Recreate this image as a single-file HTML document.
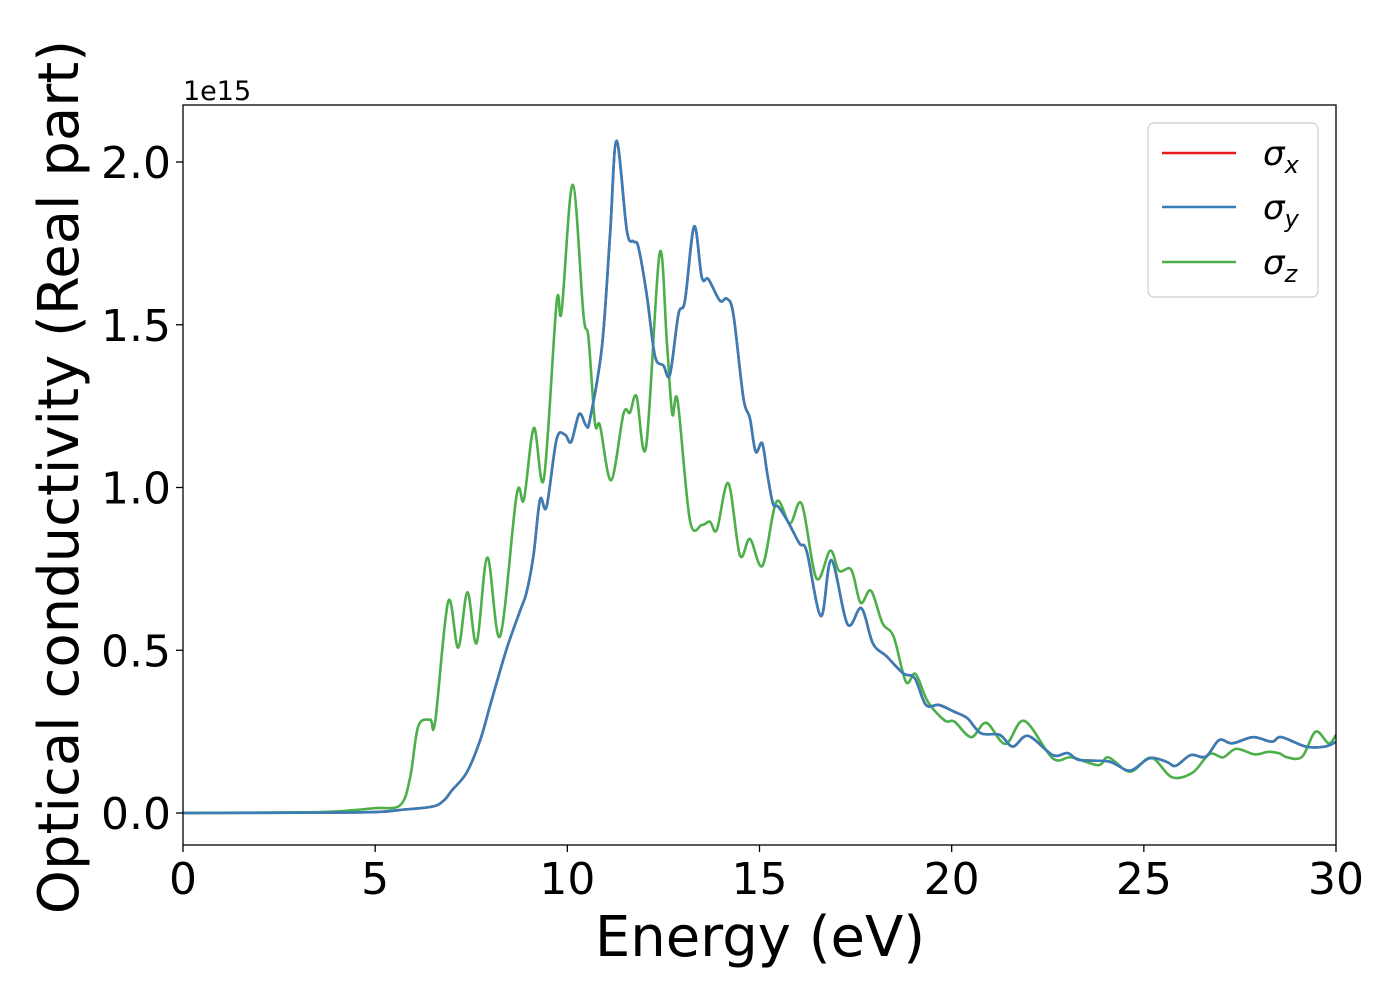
<!DOCTYPE html>
<html><head><meta charset="utf-8"><style>
body{margin:0;background:#fff;}
svg text{font-family:"DejaVu Sans","Liberation Sans",sans-serif;}
</style></head><body>
<svg id="chart" width="1400" height="1000" xmlns="http://www.w3.org/2000/svg"></svg>
<script>
const xTicks=[0,5,10,15,20,25,30];
const yTicks=[0.0,0.5,1.0,1.5,2.0];
const yTickLabels=["0.0","0.5","1.0","1.5","2.0"];
const sigmaYE=[0,3,5,5.7,6.5,6.8,7.0,7.38,7.73,7.99,8.25,8.47,8.77,8.94,9.12,9.29,9.46,9.72,9.94,10.1,10.31,10.49,10.59,10.9,11.11,11.28,11.55,11.72,11.85,12.07,12.28,12.5,12.67,12.89,13.06,13.3,13.5,13.67,13.97,14.15,14.32,14.58,14.75,14.9,15.07,15.2,15.35,15.49,15.74,16.04,16.23,16.6,16.87,17.29,17.65,17.95,18.3,18.74,19.04,19.33,19.67,20.07,20.41,20.76,21.25,21.59,21.99,22.63,23.02,23.32,24.1,24.64,25.14,25.58,25.83,26.22,26.61,26.96,27.3,27.84,28.33,28.58,29.22,29.71,30];
const sigmaYV=[0,0.001,0.003,0.01,0.02,0.04,0.07,0.124,0.223,0.33,0.437,0.522,0.621,0.678,0.792,0.963,0.941,1.148,1.162,1.14,1.226,1.19,1.21,1.432,1.774,2.065,1.788,1.756,1.738,1.589,1.404,1.375,1.347,1.532,1.574,1.802,1.645,1.64,1.574,1.58,1.532,1.276,1.213,1.11,1.136,1.044,0.951,0.941,0.895,0.828,0.803,0.605,0.777,0.58,0.629,0.521,0.482,0.429,0.414,0.332,0.332,0.311,0.291,0.245,0.24,0.204,0.237,0.178,0.184,0.163,0.158,0.13,0.168,0.158,0.145,0.178,0.173,0.224,0.214,0.233,0.219,0.233,0.204,0.204,0.218];
const sigmaXV=sigmaYV.slice();
const sigmaZE=[0,3,4,5,5.65,5.91,6.12,6.43,6.56,6.9,7.16,7.4,7.64,7.92,8.25,8.68,8.87,9.13,9.39,9.72,9.85,10.14,10.42,10.55,10.72,10.85,11.14,11.46,11.63,11.8,12.05,12.4,12.59,12.73,12.87,13.19,13.5,13.71,13.89,14.19,14.49,14.75,15.08,15.44,15.79,16.1,16.48,16.84,17.07,17.39,17.63,17.9,18.2,18.49,18.81,19.06,19.38,19.82,20.07,20.51,20.9,21.4,21.89,22.63,23.12,23.81,24.08,24.64,25.19,25.73,26.27,26.71,27.06,27.4,27.89,28.24,28.53,28.73,29.12,29.47,29.81,30];
const sigmaZV=[0,0.002,0.005,0.015,0.024,0.109,0.266,0.287,0.28,0.65,0.508,0.678,0.522,0.785,0.543,0.977,0.963,1.183,1.027,1.567,1.54,1.93,1.53,1.46,1.197,1.19,1.022,1.226,1.23,1.28,1.126,1.719,1.446,1.226,1.266,0.899,0.885,0.895,0.87,1.013,0.792,0.842,0.76,0.956,0.89,0.949,0.721,0.806,0.744,0.747,0.646,0.683,0.583,0.542,0.403,0.427,0.342,0.284,0.281,0.233,0.277,0.212,0.283,0.168,0.171,0.147,0.171,0.127,0.17,0.11,0.124,0.181,0.171,0.197,0.18,0.188,0.183,0.171,0.173,0.25,0.214,0.24];

const NS="http://www.w3.org/2000/svg";
const svg=document.getElementById('chart');
const L=183,R=1336,T=105,B=845;
const xS=e=>L+(e-0)/30*(R-L);
const yS=v=>813-v*325.5;
function mk(tag,attrs,parent){const el=document.createElementNS(NS,tag);for(const k in attrs)el.setAttribute(k,attrs[k]);(parent||svg).appendChild(el);return el;}
function pathFor(E,V){
  const p=E.map((e,i)=>[xS(e),yS(V[i])]);
  let d=`M${p[0][0]},${p[0][1]}`;
  for(let i=0;i<p.length-1;i++){
    const p0=p[Math.max(i-1,0)],p1=p[i],p2=p[i+1],p3=p[Math.min(i+2,p.length-1)];
    const c1=[p1[0]+(p2[0]-p0[0])/6,p1[1]+(p2[1]-p0[1])/6];
    const c2=[p2[0]-(p3[0]-p1[0])/6,p2[1]-(p3[1]-p1[1])/6];
    d+=` C${c1[0]},${c1[1]} ${c2[0]},${c2[1]} ${p2[0]},${p2[1]}`;
  }
  return d;
}
const clip=mk('clipPath',{id:'pc'});mk('rect',{x:L,y:T,width:R-L,height:B-T},clip);
const g=mk('g',{'clip-path':'url(#pc)'});


const series=[["sigma-x-line",sigmaYE,sigmaXV,"#e41a1c"],["sigma-z-line",sigmaZE,sigmaZV,"#4daf4a"],["sigma-y-line",sigmaYE,sigmaYV,"#377eb8"]];
series.forEach(s=>{const el=mk('path',{d:pathFor(s[1],s[2]),fill:'none',stroke:s[3],'stroke-width':2.6,'stroke-linejoin':'round'},g);

});
const frame=mk('rect',{x:L,y:T,width:R-L,height:B-T,fill:'none',stroke:'#000','stroke-width':1.3});


xTicks.forEach(t=>{const x=xS(t);mk('line',{x1:x,x2:x,y1:B,y2:B+7,stroke:'#000','stroke-width':1.3});
const tx=mk('text',{x:x,y:894,'font-size':44,'text-anchor':'middle'});tx.textContent=t;

});
yTicks.forEach((t,i)=>{const y=yS(t);mk('line',{x1:L-7,x2:L,y1:y,y2:y,stroke:'#000','stroke-width':1.3});
const tx=mk('text',{x:171,y:y+16,'font-size':44,'text-anchor':'end'});tx.textContent=yTickLabels[i];

});
</script>
<svg style="position:absolute;left:0;top:0" width="1400" height="1000" xmlns="http://www.w3.org/2000/svg">
<text x="183" y="100" font-size="27" font-family="DejaVu Sans, Liberation Sans, sans-serif">1e15</text>
<text x="760" y="956" font-size="56" text-anchor="middle" font-family="DejaVu Sans, Liberation Sans, sans-serif">Energy (eV)</text>
<text transform="translate(78,477) rotate(-90)" font-size="56" text-anchor="middle" font-family="DejaVu Sans, Liberation Sans, sans-serif">Optical conductivity (Real part)</text>
<g>
<rect x="1148" y="123" width="170" height="174" rx="6" fill="#fff" fill-opacity="0.8" stroke="#ccc" stroke-width="1.2"/>
<line x1="1162" x2="1236" y1="153" y2="153" stroke="#e41a1c" stroke-width="2.6"/>
<text x="1263" y="165" font-size="34" font-style="italic" font-family="DejaVu Serif, Liberation Serif, serif">σ<tspan font-size="24" dy="8">x</tspan></text>
<line x1="1162" x2="1236" y1="207" y2="207" stroke="#377eb8" stroke-width="2.6"/>
<text x="1263" y="219" font-size="34" font-style="italic" font-family="DejaVu Serif, Liberation Serif, serif">σ<tspan font-size="24" dy="8">y</tspan></text>
<line x1="1162" x2="1236" y1="262" y2="262" stroke="#4daf4a" stroke-width="2.6"/>
<text x="1263" y="274" font-size="34" font-style="italic" font-family="DejaVu Serif, Liberation Serif, serif">σ<tspan font-size="24" dy="8">z</tspan></text>
</g>
</svg>
</body></html>
